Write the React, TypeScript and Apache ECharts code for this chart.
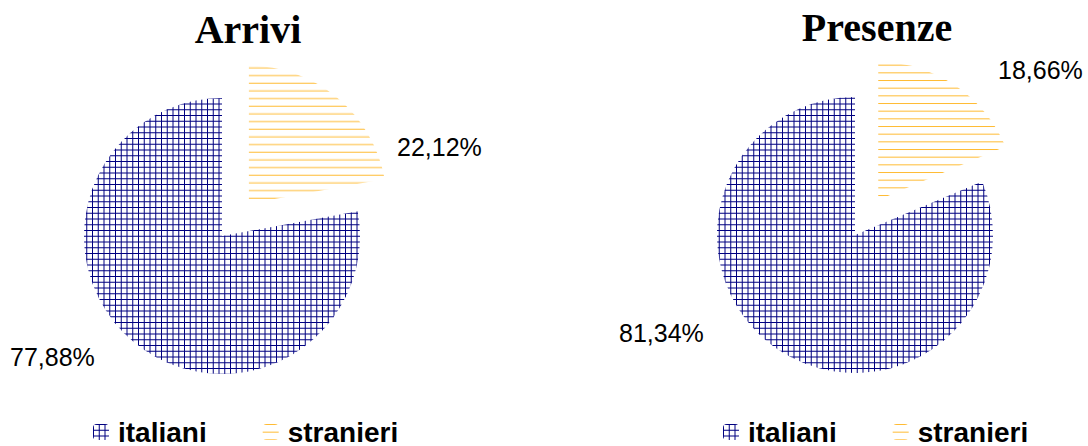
import React, { useEffect, useRef } from "react";
import * as echarts from "echarts";

const categories = ["italiani", "stranieri"];
const arriviValues = [77.88, 22.12];
const presenzeValues = [81.34, 18.66];
const chartTitles = ["Arrivi", "Presenze"];

function makeGrid(): HTMLCanvasElement {
  const s = 23;
  const c = document.createElement("canvas");
  c.width = s;
  c.height = s;
  const ctx = c.getContext("2d")!;
  ctx.strokeStyle = "#000080";
  ctx.lineWidth = 1;
  for (let i = 0; i < 4; i++) {
    const p = i * 5.75 + 0.5;
    ctx.beginPath();
    ctx.moveTo(p, 0);
    ctx.lineTo(p, s);
    ctx.stroke();
    ctx.beginPath();
    ctx.moveTo(0, p);
    ctx.lineTo(s, p);
    ctx.stroke();
  }
  return c;
}

function makeStripes(): HTMLCanvasElement {
  const h = 23;
  const c = document.createElement("canvas");
  c.width = 4;
  c.height = h;
  const ctx = c.getContext("2d")!;
  ctx.strokeStyle = "#ffbb33";
  ctx.lineWidth = 1;
  for (let i = 0; i < 3; i++) {
    const p = i * (h / 3) + 0.5;
    ctx.beginPath();
    ctx.moveTo(0, p);
    ctx.lineTo(4, p);
    ctx.stroke();
  }
  return c;
}

const fmt = (p: any) => p.value.toFixed(2).replace(".", ",") + "%";

export default function App() {
  const ref = useRef<HTMLDivElement>(null);
  useEffect(() => {
    if (!ref.current) return;
    const chart = echarts.init(ref.current, undefined, { renderer: "svg" });
    const grid = { image: makeGrid(), repeat: "repeat" } as any;
    const stripes = { image: makeStripes(), repeat: "repeat" } as any;
    const patterns = [grid, stripes];

    const labelPos = [
      [
        { x: 10, y: 357 },
        { x: 397, y: 147 },
      ],
      [
        { x: 619, y: 333 },
        { x: 998, y: 70 },
      ],
    ];

    const mainSeries = (values: number[], center: number[]) => ({
      type: "pie",
      center,
      radius: 138,
      startAngle: 90,
      clockwise: false,
      selectedMode: "single",
      selectedOffset: 42,
      avoidLabelOverlap: false,
      silent: true,
      emphasis: { disabled: true },
      label: { show: false },
      labelLine: { show: false },
      itemStyle: { borderWidth: 0 },
      data: categories.map((name, i) => ({
        name,
        value: values[i],
        selected: i === 1,
        itemStyle: { color: patterns[i] },
      })),
    });

    const labelSeries = (values: number[], center: number[], si: number) => ({
      type: "pie",
      center,
      radius: 138,
      startAngle: 90,
      clockwise: false,
      selectedMode: false,
      avoidLabelOverlap: false,
      silent: true,
      emphasis: { disabled: true },
      itemStyle: { color: "rgba(0,0,0,0)", borderWidth: 0 },
      label: {
        show: true,
        position: "outside",
        formatter: fmt,
        fontSize: 25,
        color: "#000",
        fontFamily: "Liberation Sans, Arial, sans-serif",
      },
      labelLine: { show: false },
      labelLayout: (p: any) => ({
        x: labelPos[si][p.dataIndex].x,
        y: labelPos[si][p.dataIndex].y,
        align: "left",
        verticalAlign: "middle",
      }),
      data: categories.map((name, i) => ({ name, value: values[i] })),
    });

    const legendBase = {
      orient: "horizontal",
      top: 413,
      itemWidth: 16,
      itemHeight: 16,
      itemGap: 56,
      selectedMode: false,
      data: categories,
      textStyle: {
        fontSize: 28,
        fontWeight: "bold",
        color: "#000",
        fontFamily: "Liberation Sans, Arial, sans-serif",
        padding: [0, 0, 0, 4],
      },
    };

    chart.setOption({
      animation: false,
      backgroundColor: "#fff",
      title: [
        {
          text: chartTitles[0],
          left: 243,
          top: 4,
          textAlign: "center",
          textStyle: { fontSize: 40, fontWeight: "bold", fontFamily: "Liberation Serif, Times New Roman, serif", color: "#000" },
        },
        {
          text: chartTitles[1],
          left: 872,
          top: 2,
          textAlign: "center",
          textStyle: { fontSize: 40, fontWeight: "bold", fontFamily: "Liberation Serif, Times New Roman, serif", color: "#000" },
        },
      ],
      legend: [
        { ...legendBase, left: 88 },
        { ...legendBase, left: 718 },
      ],
      series: [
        mainSeries(arriviValues, [222, 236]),
        mainSeries(presenzeValues, [855, 235]),
        labelSeries(arriviValues, [222, 236], 0),
        labelSeries(presenzeValues, [855, 235], 1),
      ],
    });
    return () => chart.dispose();
  }, []);
  return (
    <div
      ref={ref}
      style={{ position: "fixed", left: 0, top: 0, width: 1088, height: 446 }}
    />
  );
}
